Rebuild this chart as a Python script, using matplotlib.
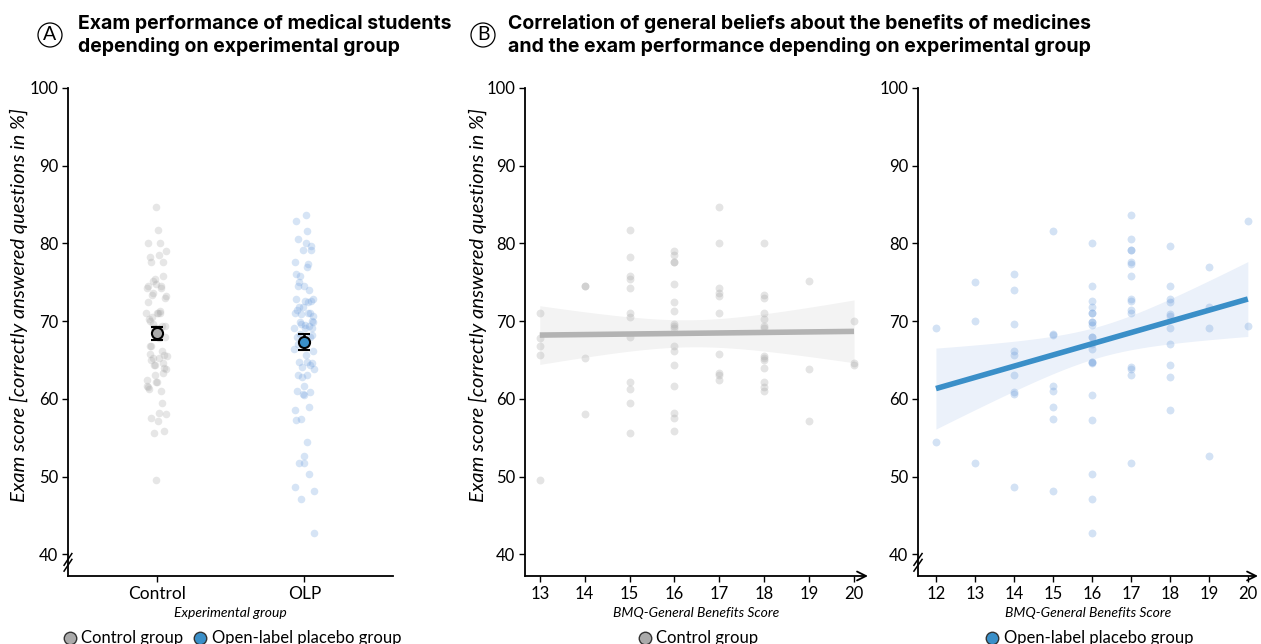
import matplotlib
matplotlib.use("Agg")
import matplotlib.pyplot as plt
from matplotlib.lines import Line2D
import numpy as np

plt.rcParams['font.family'] = ['Lato', 'DejaVu Sans']

# BMQ score -> exam scores, control group (left)
ctrl_bmq = [13]*5 + [14]*4 + [15]*12 + [16]*17 + [17]*10 + [18]*14 + [19]*3 + [20]*3
ctrl_exam = [71.1, 67.8, 66.8, 65.7, 49.5,
             74.5, 74.5, 65.3, 58.1,
             81.7, 78.3, 75.8, 75.4, 74.2, 71.0, 70.5, 67.9, 62.1, 61.2, 59.4, 55.6,
             79.0, 78.5, 77.6, 77.6, 74.8, 72.4, 71.3, 69.6, 69.4, 69.1, 66.8, 66.1, 64.4, 61.6, 58.2, 57.5, 55.8,
             84.7, 80.0, 74.3, 73.6, 73.2, 71.1, 65.8, 63.3, 63.0, 62.4,
             80.0, 73.3, 73.0, 71.1, 70.3, 69.4, 69.1, 65.5, 65.3, 65.0, 64.0, 62.1, 61.5, 61.0,
             75.1, 63.9, 57.1,
             70.0, 64.6, 64.4]

# open-label placebo group (panel B, right)
olp_bmq = [12]*2 + [13]*3 + [14]*9 + [15]*8 + [16]*21 + [17]*15 + [18]*11 + [19]*4 + [20]*2
olp_exam = [69.1, 54.5,
            75.0, 70.0, 51.7,
            76.1, 74.0, 69.6, 66.2, 65.7, 63.0, 60.9, 60.6, 48.7,
            81.6, 68.4, 68.2, 61.6, 61.0, 58.9, 57.4, 48.1,
            80.0, 74.5, 72.6, 71.8, 71.0, 71.0, 69.9, 69.9, 69.5, 67.9, 67.9, 67.0, 66.4, 64.8, 64.8, 64.6,
            60.5, 57.3, 50.3, 47.1, 42.7,
            83.7, 80.6, 79.1, 79.1, 77.6, 77.3, 75.8, 72.8, 72.6, 71.4, 71.0, 64.1, 63.9, 63.0, 51.7,
            79.7, 74.5, 72.8, 72.4, 70.9, 70.7, 69.1, 67.0, 64.3, 62.8, 58.6,
            76.9, 71.8, 69.1, 52.6,
            82.9, 69.4]

groups = ['Control', 'OLP']
yticks = [40, 50, 60, 70, 80, 90, 100]

GREY = '#aaaaaa'
BLUE = '#3a8fc8'
PT_GREY = '#a8a8a8'
PT_BLUE = '#6f9fdc'
YLAB = 'Exam score [correctly answered questions in %]'


def style_axis(ax, ylab_x=None):
    ax.set_ylim(37.2, 100)
    ax.set_yticks(yticks)
    for s in ['top', 'right']:
        ax.spines[s].set_visible(False)
    ax.spines['left'].set_linewidth(1.3)
    ax.spines['bottom'].set_linewidth(1.3)
    ax.tick_params(labelsize=12, length=4, width=1, pad=3)
    if ylab_x is not None:
        ax.set_ylabel(YLAB, fontsize=14.5, style='italic')
        ax.yaxis.set_label_coords(ylab_x, 0.555)


def axis_break(ax):
    # little "//" on the y axis near the bottom
    for dy in [0.0, 0.012]:
        ax.plot([-0.012, 0.012], [0.010 + dy, 0.034 + dy], transform=ax.transAxes,
                color='black', lw=1.1, clip_on=False)


def arrow_x(ax):
    ax.spines['bottom'].set_visible(False)
    ax.annotate('', xy=(1.0, 0), xytext=(0, 0), xycoords='axes fraction',
                arrowprops=dict(arrowstyle='->', lw=1.3, color='black',
                                shrinkA=0, shrinkB=0, mutation_scale=16))


def reg_band(ax, x, y, line_col, band_col, xmin, xmax):
    x = np.asarray(x, float)
    y = np.asarray(y, float)
    b, a = np.polyfit(x, y, 1)
    grid = np.linspace(xmin, xmax, 100)
    fit = a + b * grid
    n = len(x)
    resid = y - (a + b * x)
    s = np.sqrt(np.sum(resid ** 2) / (n - 2))
    se = s * np.sqrt(1 / n + (grid - x.mean()) ** 2 / np.sum((x - x.mean()) ** 2))
    ax.fill_between(grid, fit - 1.99 * se, fit + 1.99 * se, color=band_col, lw=0, zorder=1)
    ax.plot(grid, fit, color=line_col, lw=4, zorder=3, solid_capstyle='butt')


fig = plt.figure(figsize=(12.61, 6.44), dpi=100)
axA = fig.add_axes([0.0539, 0.1056, 0.2577, 0.7578])
axB = fig.add_axes([0.4163, 0.1056, 0.2720, 0.7578])
axC = fig.add_axes([0.7280, 0.1056, 0.2696, 0.7578])

# ---- panel A
data_A = [ctrl_exam, olp_exam]
pt_cols = [PT_GREY, PT_BLUE]
mean_cols = [GREY, BLUE]
for i, vals in enumerate(data_A):
    vals = np.asarray(vals)
    k = np.arange(len(vals))
    jit = ((k * 0.618034) % 1 - 0.5) * 0.14
    axA.scatter(i + jit, vals, s=30, color=pt_cols[i], alpha=0.28, lw=0, zorder=2)
    m = vals.mean()
    se = vals.std(ddof=1) / np.sqrt(len(vals))
    axA.errorbar(i, m, yerr=se, fmt='o', ms=8, mfc=mean_cols[i], mec='black', mew=1.5,
                 ecolor='black', elinewidth=1.8, capsize=4, capthick=1.8, zorder=4)
axA.set_xlim(-0.6, 1.6)
axA.set_xticks([0, 1])
style_axis(axA, ylab_x=-0.123)
axA.set_xticklabels(groups, fontsize=12.5)
axA.set_xlabel('Experimental group', fontsize=10, style='italic', labelpad=4)
axis_break(axA)

# ---- panel B, control
axB.scatter(ctrl_bmq, ctrl_exam, s=32, color=PT_GREY, alpha=0.3, lw=0, zorder=2)
reg_band(axB, ctrl_bmq, ctrl_exam, '#b3b3b3', '#f3f3f3', 13, 20)
axB.set_xlim(12.67, 20.31)
axB.set_xticks(range(13, 21))
style_axis(axB, ylab_x=-0.111)
axB.set_xlabel('BMQ-General Benefits Score', fontsize=10, style='italic', labelpad=4)
arrow_x(axB)

# ---- panel B, OLP
axC.scatter(olp_bmq, olp_exam, s=32, color=PT_BLUE, alpha=0.3, lw=0, zorder=2)
reg_band(axC, olp_bmq, olp_exam, BLUE, '#ebf1fa', 12, 20)
axC.set_xlim(11.54, 20.26)
axC.set_xticks(range(12, 21))
style_axis(axC)
axC.set_xlabel('BMQ-General Benefits Score', fontsize=10, style='italic', labelpad=4)
arrow_x(axC)
axis_break(axC)


# ---- legends
def handle(col, lab):
    return Line2D([], [], marker='o', ls='none', ms=9, mfc=col, mec='#333333', mew=1, label=lab)


leg_kw = dict(loc='upper center', frameon=False, fontsize=12, handletextpad=0.1,
              columnspacing=0.4, borderaxespad=0, handlelength=1.2)
axA.legend(handles=[handle(GREY, 'Control group'), handle(BLUE, 'Open-label placebo group')],
           ncol=2, bbox_to_anchor=(0.5, -0.098), **leg_kw)
axB.legend(handles=[handle(GREY, 'Control group')], bbox_to_anchor=(0.5, -0.098), **leg_kw)
axC.legend(handles=[handle(BLUE, 'Open-label placebo group')], bbox_to_anchor=(0.5, -0.098), **leg_kw)

# ---- titles
circ = dict(boxstyle='circle,pad=0.18', fc='white', ec='black', lw=0.9)
fig.text(50 / 1261, 1 - 35 / 644, 'A', fontsize=14, ha='center', va='center', bbox=circ)
fig.text(78 / 1261, 1 - 35 / 644, 'Exam performance of medical students\ndepending on experimental group',
         fontsize=14, fontweight='bold', family=['Inter', 'DejaVu Sans'], ha='left', va='center',
         linespacing=1.25)
fig.text(483 / 1261, 1 - 35 / 644, 'B', fontsize=14, ha='center', va='center', bbox=circ)
fig.text(508 / 1261, 1 - 35 / 644,
         'Correlation of general beliefs about the benefits of medicines\n'
         'and the exam performance depending on experimental group',
         fontsize=14, fontweight='bold', family=['Inter', 'DejaVu Sans'], ha='left', va='center',
         linespacing=1.25)

fig.savefig('out.png', dpi=100)
